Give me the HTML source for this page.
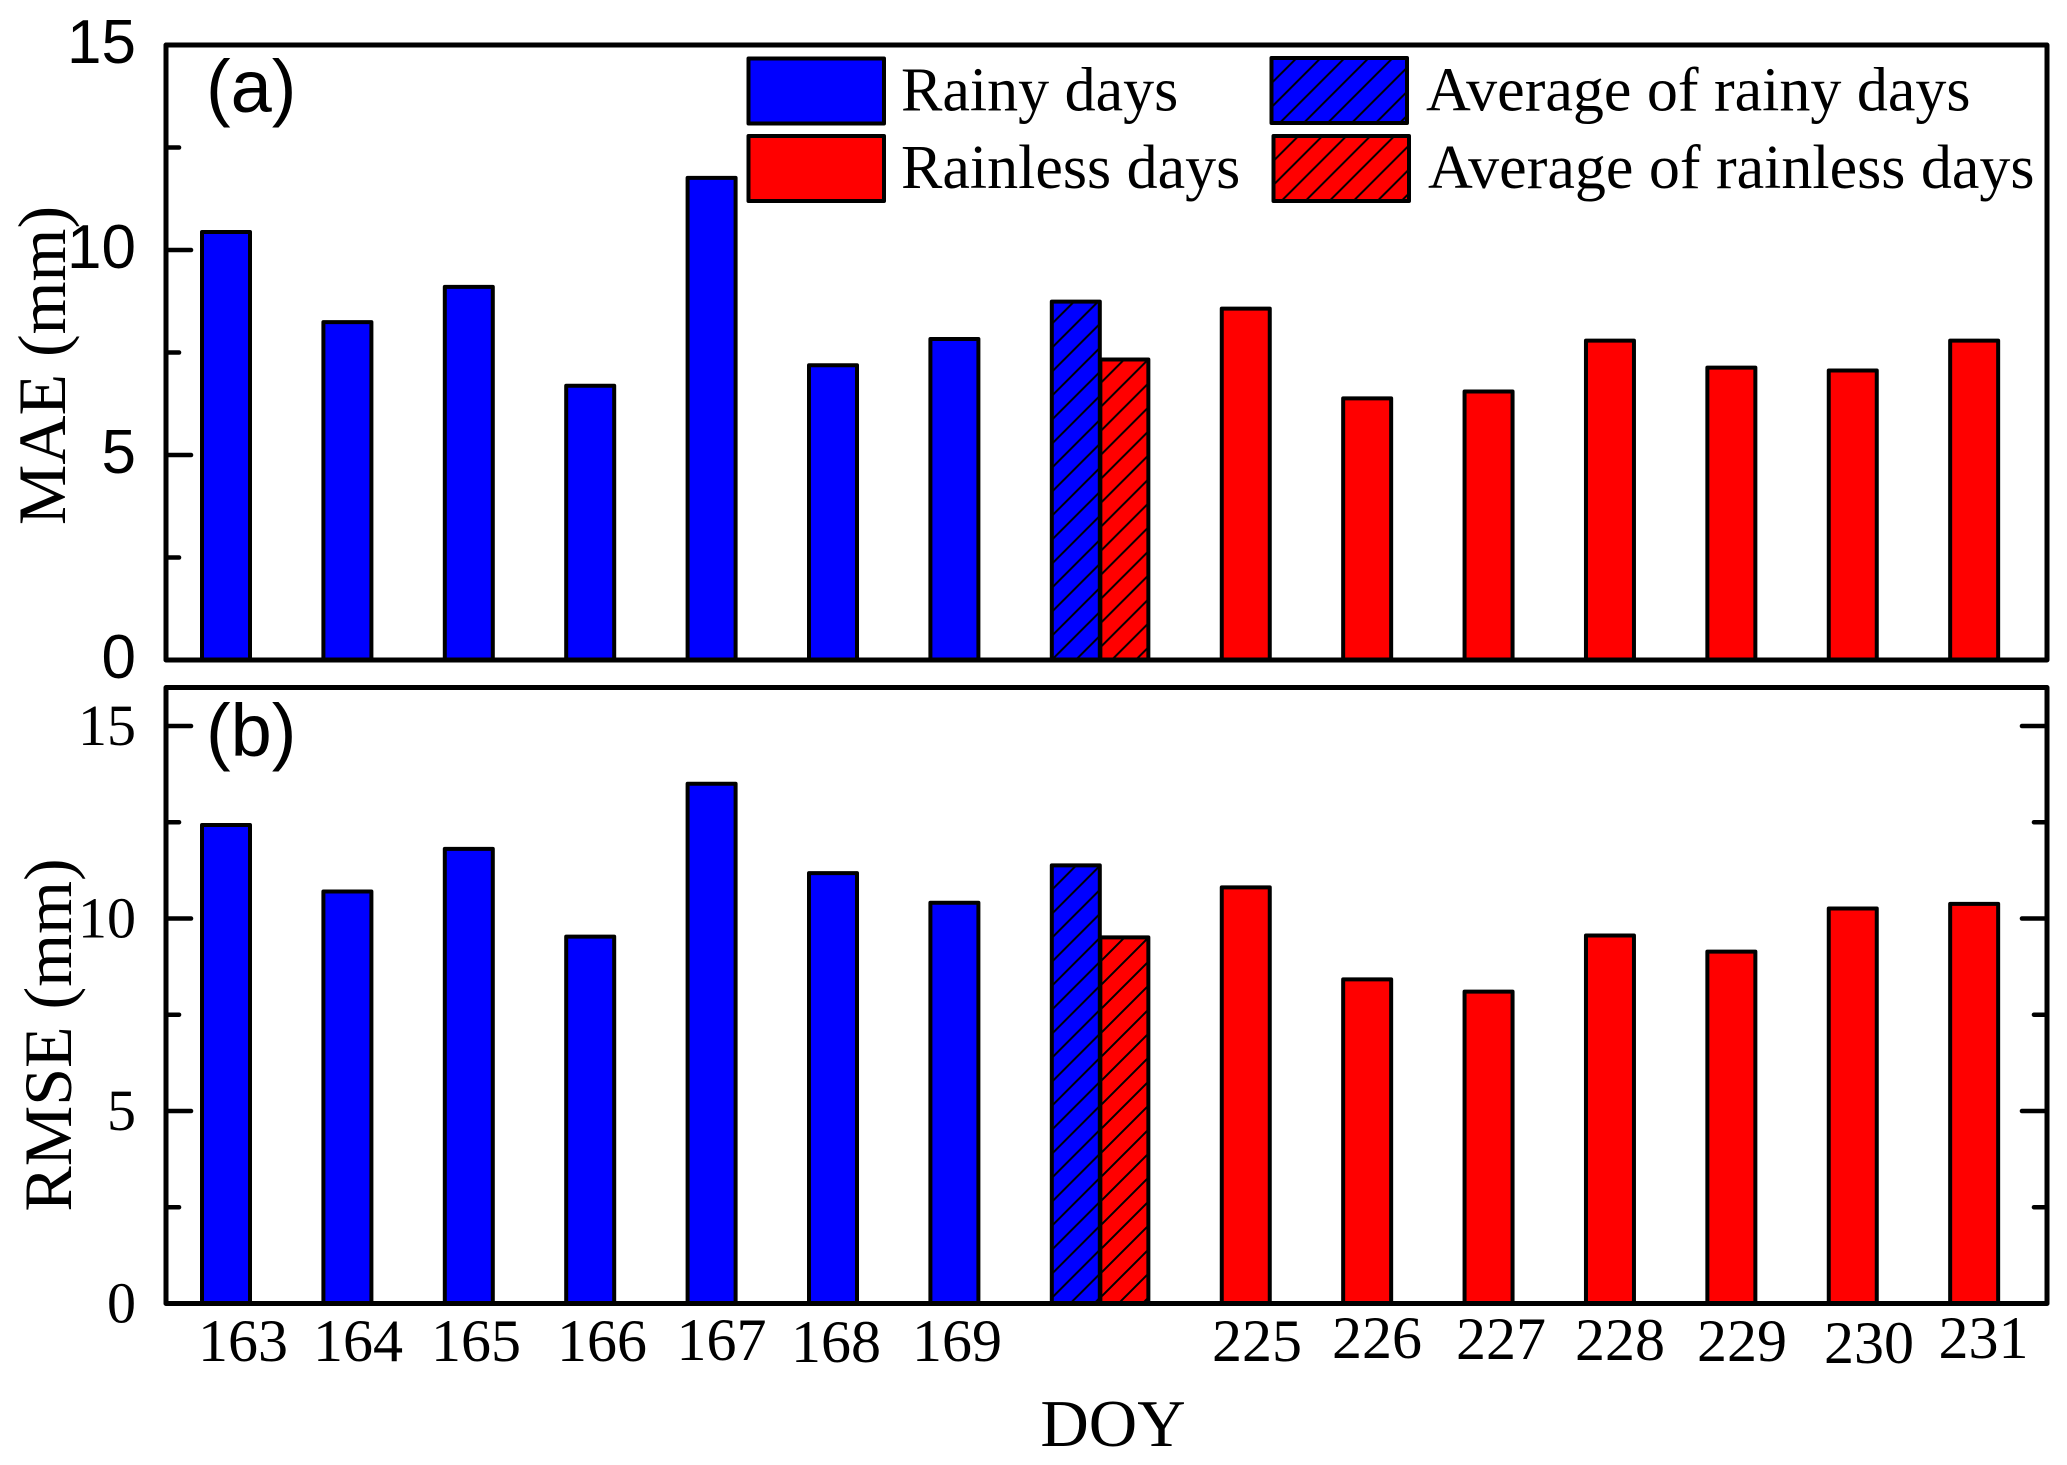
<!DOCTYPE html>
<html lang="en">
<head>
<meta charset="utf-8">
<title>MAE and RMSE by DOY</title>
<style>
html,body{margin:0;padding:0;background:#fff;}
svg{display:block;}
.serif{font-family:"Liberation Serif",serif;fill:#000;}
.sans{font-family:"Liberation Sans",sans-serif;fill:#000;}
.xt{font-size:60px;text-anchor:middle;}
.leg{font-size:62px;}
</style>
</head>
<body>
<svg id="chart" xmlns="http://www.w3.org/2000/svg" width="2067" height="1465" viewBox="0 0 2067 1465">
  <defs>
    <pattern id="hatch-blue-a" width="24" height="24" patternUnits="userSpaceOnUse" patternTransform="translate(7.7 0)"><rect width="24" height="24" fill="#0000ff"/><path d="M-4,4 L4,-4 M0,24 L24,0 M20,28 L28,20" stroke="#000" stroke-width="2"/></pattern>
    <pattern id="hatch-red-a" width="24" height="24" patternUnits="userSpaceOnUse" patternTransform="translate(19.7 0)"><rect width="24" height="24" fill="#ff0000"/><path d="M-4,4 L4,-4 M0,24 L24,0 M20,28 L28,20" stroke="#000" stroke-width="2"/></pattern>
    <pattern id="hatch-blue-b" width="24" height="24" patternUnits="userSpaceOnUse" patternTransform="translate(21.7 0)"><rect width="24" height="24" fill="#0000ff"/><path d="M-4,4 L4,-4 M0,24 L24,0 M20,28 L28,20" stroke="#000" stroke-width="2"/></pattern>
    <pattern id="hatch-red-b" width="24" height="24" patternUnits="userSpaceOnUse" patternTransform="translate(22 0)"><rect width="24" height="24" fill="#ff0000"/><path d="M-4,4 L4,-4 M0,24 L24,0 M20,28 L28,20" stroke="#000" stroke-width="2"/></pattern>
    <pattern id="hatch-blue-legend" width="24" height="24" patternUnits="userSpaceOnUse" patternTransform="translate(10.7 0)"><rect width="24" height="24" fill="#0000ff"/><path d="M-4,4 L4,-4 M0,24 L24,0 M20,28 L28,20" stroke="#000" stroke-width="2"/></pattern>
    <pattern id="hatch-red-legend" width="24" height="24" patternUnits="userSpaceOnUse" patternTransform="translate(18.4 0)"><rect width="24" height="24" fill="#ff0000"/><path d="M-4,4 L4,-4 M0,24 L24,0 M20,28 L28,20" stroke="#000" stroke-width="2"/></pattern>
  </defs>

  <g id="panel-a"></g>
  <g id="panel-b"></g>

  <text class="sans" x="206" y="112" font-size="74">(a)</text>
  <text class="sans" x="206" y="756" font-size="74">(b)</text>

  <text class="serif" font-size="68" text-anchor="middle" transform="translate(65 365.5) rotate(-90)">MAE (mm)</text>
  <text class="serif" font-size="68" text-anchor="middle" transform="translate(71 1035) rotate(-90)">RMSE (mm)</text>

  <g>
    <text class="serif xt" x="243" y="1361">163</text>
    <text class="serif xt" x="358" y="1361">164</text>
    <text class="serif xt" x="476" y="1361">165</text>
    <text class="serif xt" x="602" y="1361">166</text>
    <text class="serif xt" x="721.500" y="1360">167</text>
    <text class="serif xt" x="836" y="1362">168</text>
    <text class="serif xt" x="957" y="1361">169</text>
    <text class="serif xt" x="1257" y="1361">225</text>
    <text class="serif xt" x="1377" y="1358">226</text>
    <text class="serif xt" x="1501" y="1359">227</text>
    <text class="serif xt" x="1620" y="1360">228</text>
    <text class="serif xt" x="1742" y="1361">229</text>
    <text class="serif xt" x="1869" y="1363">230</text>
    <text class="serif xt" x="1983.500" y="1358">231</text>
  </g>
  <text class="serif" x="1113" y="1446" font-size="67" text-anchor="middle">DOY</text>

  <g>
    <g>
      <rect x="748.500" y="58.500" width="135.500" height="65" fill="#0000ff" stroke="#000" stroke-width="4" stroke-linejoin="round"/>
      <text class="serif leg" x="901" y="110.5">Rainy days</text>
    </g>
    <g>
      <rect x="748.500" y="136" width="135.500" height="65" fill="#ff0000" stroke="#000" stroke-width="4" stroke-linejoin="round"/>
      <text class="serif leg" x="901" y="188">Rainless days</text>
    </g>
    <g>
      <rect x="1271.500" y="58" width="135.500" height="65" fill="url(#hatch-blue-legend)" stroke="#000" stroke-width="4" stroke-linejoin="round"/>
      <text class="serif leg" x="1426" y="110.5">Average of rainy days</text>
    </g>
    <g>
      <rect x="1273.500" y="136" width="135.500" height="65" fill="url(#hatch-red-legend)" stroke="#000" stroke-width="4" stroke-linejoin="round"/>
      <text class="serif leg" x="1428" y="188">Average of rainless days</text>
    </g>
  </g>
</svg>

<script>
// Categories in draw order; "avg-rainy" and "avg-rainless" are the two hatched averages.
var categories = ['163','164','165','166','167','168','169','avg-rainy','avg-rainless','225','226','227','228','229','230','231'];
var seriesKinds = ['rainy','rainy','rainy','rainy','rainy','rainy','rainy','avg-rainy','avg-rainless','rainless','rainless','rainless','rainless','rainless','rainless','rainless'];
var maeValues = [10.44,8.24,9.1,6.69,11.76,7.19,7.83,8.74,7.33,8.57,6.38,6.55,7.79,7.13,7.06,7.79];
var rmseValues = [12.43,10.7,11.81,9.53,13.5,11.18,10.41,11.38,9.51,10.81,8.42,8.1,9.56,9.14,10.26,10.38];
var maeTickLabels = [0,5,10,15];
var maeMinorTicks = [2.5,7.5,12.5];
var rmseTickLabels = [0,5,10,15];
var rmseMinorTicks = [2.5,7.5,12.5];

var NS = 'http://www.w3.org/2000/svg';
var LEFT = 166, RIGHT = 2047, BAR_W = 48;

function xCenter(i) {
  var slot = i <= 7 ? i : i - 0.6;
  return 226 + 121.4 * slot;
}
function yMae(v) { return 660 - 41 * v; }
function yRmse(v) { return 1303.5 - 38.5 * v; }

function line(parent, x1, y1, x2, y2, w) {
  var l = document.createElementNS(NS, 'line');
  l.setAttribute('x1', x1);
  l.setAttribute('y1', y1);
  l.setAttribute('x2', x2);
  l.setAttribute('y2', y2);
  l.setAttribute('stroke', '#000');
  l.setAttribute('stroke-width', w);
  l.setAttribute('stroke-linecap', 'round');
  parent.appendChild(l);
  return l;
}

function fillFor(kind, suffix) {
  if (kind === 'rainy') return '#0000ff';
  if (kind === 'rainless') return '#ff0000';
  if (kind === 'avg-rainy') return 'url(#hatch-blue-' + suffix + ')';
  return 'url(#hatch-red-' + suffix + ')';
}

function drawBars(panel, values, yFn, suffix) {
  values.forEach(function (v, i) {
    var top = yFn(v);
    var r = document.createElementNS(NS, 'rect');
    r.setAttribute('x', xCenter(i) - BAR_W / 2);
    r.setAttribute('y', top);
    r.setAttribute('width', BAR_W);
    r.setAttribute('height', yFn(0) - top);
    r.setAttribute('fill', fillFor(seriesKinds[i], suffix));
    r.setAttribute('stroke', '#000');
    r.setAttribute('stroke-width', '4');
    r.setAttribute('stroke-linejoin', 'round');
    
    
    panel.appendChild(r);
  });
}

function drawFrame(panel, yTop, yBottom) {
  var f = document.createElementNS(NS, 'rect');
  f.setAttribute('x', LEFT);
  f.setAttribute('y', yTop);
  f.setAttribute('width', RIGHT - LEFT);
  f.setAttribute('height', yBottom - yTop);
  f.setAttribute('fill', 'none');
  f.setAttribute('stroke', '#000');
  f.setAttribute('stroke-width', '5');
  f.setAttribute('stroke-linejoin', 'round');
  
  
  panel.appendChild(f);
}

function drawTickLabel(panel, v, yFn, cls, size, dy) {
  var t = document.createElementNS(NS, 'text');
  t.setAttribute('class', cls);
  t.setAttribute('x', 136);
  t.setAttribute('y', yFn(v) + dy);
  t.setAttribute('font-size', size);
  t.setAttribute('text-anchor', 'end');
  
  
  t.textContent = v;
  panel.appendChild(t);
}

function drawTicks(panel, majors, minors, yFn, mirror) {
  majors.forEach(function (v) {
    var t = line(panel, LEFT, yFn(v), LEFT + 25, yFn(v), 4.6);
    
    
    if (mirror) {
      var m = line(panel, RIGHT, yFn(v), RIGHT - 25, yFn(v), 4.6);
      
      
    }
  });
  minors.forEach(function (v) {
    var t = line(panel, LEFT, yFn(v), LEFT + 13, yFn(v), 4.6);
    
    
    if (mirror) {
      var m = line(panel, RIGHT, yFn(v), RIGHT - 13, yFn(v), 4.6);
      
      
    }
  });
}

var panelA = document.getElementById('panel-a');
var panelB = document.getElementById('panel-b');

drawBars(panelA, maeValues, yMae, 'a');
drawFrame(panelA, yMae(15), yMae(0));
drawTicks(panelA, maeTickLabels, maeMinorTicks, yMae, false);
maeTickLabels.forEach(function (v) { drawTickLabel(panelA, v, yMae, 'sans', 62, 18); });

drawBars(panelB, rmseValues, yRmse, 'b');
drawFrame(panelB, yRmse(16), yRmse(0));
drawTicks(panelB, rmseTickLabels, rmseMinorTicks, yRmse, true);
rmseTickLabels.forEach(function (v) { drawTickLabel(panelB, v, yRmse, 'serif', 58, 19); });
</script>
</body>
</html>
